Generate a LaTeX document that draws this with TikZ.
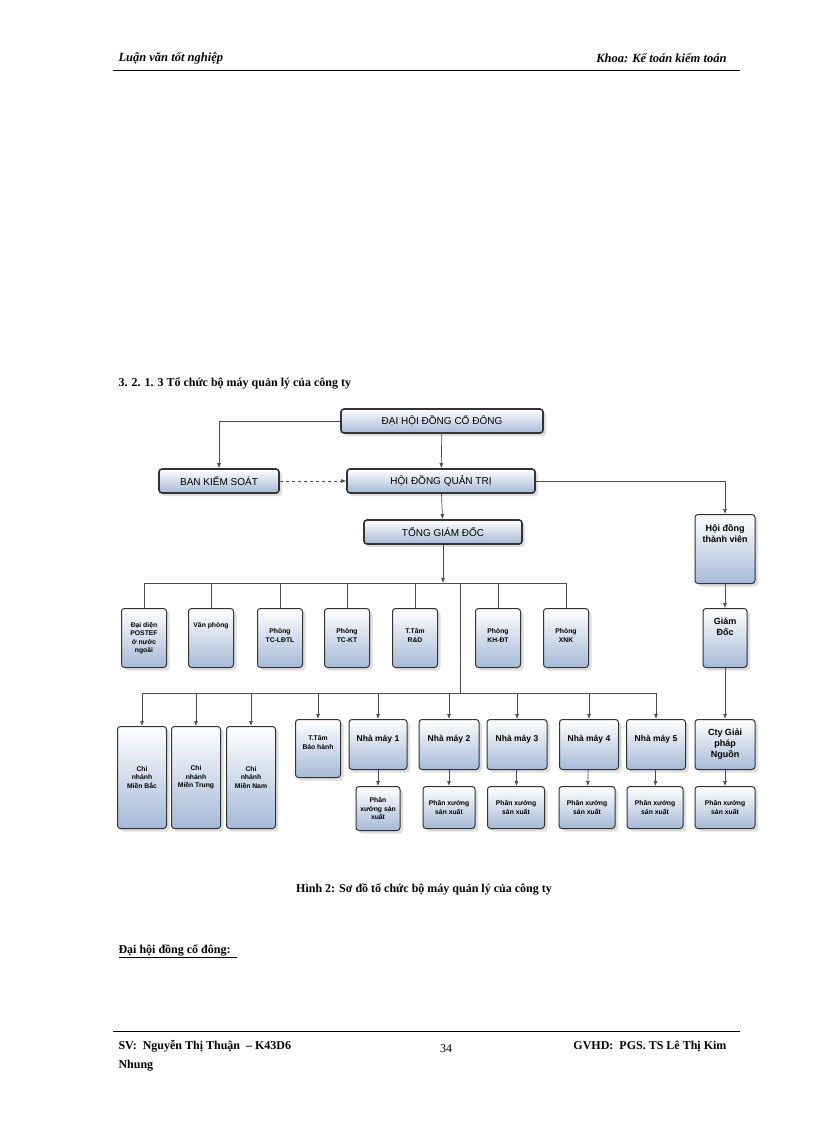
\documentclass[tikz,border=0pt]{standalone}
\usepackage{fontspec}
\setmainfont{Liberation Serif}
\newfontfamily\sff{Liberation Sans}
\usetikzlibrary{shadows,arrows.meta}
\definecolor{bxb}{RGB}{165,185,215}
\begin{document}
\begin{tikzpicture}[x={(1pt,0)},y={(0,-1pt)},
  bx/.style={draw=black!80,line width=1pt,rounded corners=3pt,top color=white,bottom color=bxb,
     drop shadow={shadow xshift=3pt,shadow yshift=-3pt,fill=gray!50},inner sep=1pt,align=center,font=\sff\fontsize{7}{8.5}\selectfont},
  big/.style={bx,font=\sff\fontsize{10}{11}\selectfont,line width=1.6pt},
  sm/.style={bx,font=\sff\bfseries\fontsize{6.8}{8.5}\selectfont},
  ln/.style={draw=black!70,line width=0.7pt},
  ar/.style={ln,-{Latex[length=5pt,width=4pt]}}]
\useasboundingbox (0,0) rectangle (816,1123);
% header/footer
\node[anchor=west,font=\bfseries\itshape\fontsize{12.5}{14}\selectfont] (h1) at (115,58) {Luận văn tốt nghiệp};
\node[anchor=east,font=\bfseries\itshape\fontsize{12.5}{14}\selectfont] (h2) at (730,58) {Khoa: Kế toán kiểm toán};
\draw[line width=1pt] (113,71) -- (740,71);
\node[anchor=west,font=\bfseries\fontsize{12}{14}\selectfont] (sec) at (115,383) {3. 2. 1. 3 Tổ chức bộ máy quản lý của công ty};
% top
\node[big,minimum width=202,minimum height=24] (dh) at (442,421) {ĐẠI HỘI ĐỒNG CỔ ĐÔNG};
\node[big,minimum width=120,minimum height=24] (bks) at (219,481) {BAN KIỂM SOÁT};
\node[big,minimum width=188,minimum height=24] (hq) at (441,481) {HỘI ĐỒNG QUẢN TRỊ};
\node[big,minimum width=158,minimum height=24] (tg) at (443,532) {TỔNG GIÁM ĐỐC};
\node[bx,font=\sff\bfseries\fontsize{9}{11}\selectfont,minimum width=60,minimum height=69,anchor=north,text depth=30pt] (tv) at (725,514) {Hội đồng\\thành viên};
\node[bx,font=\sff\bfseries\fontsize{9}{11}\selectfont,minimum width=44,minimum height=59,anchor=north,text depth=22pt] (gd) at (725,608) {Giám\\Đốc};
\draw[ar] (dh.west) -| (bks.north);
\draw[ar] (dh) -- (hq);
\draw[ar,dashed] (bks) -- (hq);
\draw[ar] (hq) -- (tg);
\draw[ar] (hq.east) -| (tv.north);
\draw[ar] (tv) -- (gd);
\coordinate (b1) at (443,583);
\draw[ar] (tg) -- (b1);
% row 1
\foreach \n/\x/\t in {r1/144/{Đại diện\\POSTEF\\ở nước\\ngoài},r2/211/{Văn phòng\\ \\ \\ },r3/280/{ \\Phòng\\TC-LĐTL\\ },r4/347/{ \\Phòng\\TC-KT\\ },r5/415/{ \\T.Tâm\\R\&D\\ },r6/498/{ \\Phòng\\KH-ĐT\\ },r7/566/{ \\Phòng\\XNK\\ }}{
  \node[sm,minimum width=45,minimum height=59,anchor=north] (\n) at (\x,608) {\t};
  \draw[ln] (\x,583) -- (\n.north);
}
\draw[ln] (r1.north |- b1) -- (r7.north |- b1);
\coordinate (b2) at (460,693);
\draw[ln] (460,583) -- (b2);
\draw[ln] (142,693) -- (656,693);
% row 2
\foreach \n/\x/\t in {c1/142/{Chi\\nhánh\\Miền Bắc},c2/196/{Chi\\nhánh\\Miền Trung},c3/251/{Chi\\nhánh\\Miền Nam}}{
  \node[sm,minimum width=49,minimum height=102,anchor=north] (\n) at (\x,726) {\t};
  \draw[ar] (\x,693) -- (\n.north);
}
\node[sm,minimum width=45,minimum height=58,anchor=north,text depth=12pt] (tb) at (318,719) {T.Tâm\\Bảo hành};
\draw[ar] (318,693) -- (tb.north);
\foreach \n/\x/\w/\k in {m1/378/58/1,m2/449/60/2,m3/517/60/3,m4/589/59/4,m5/656/59/5}{
  \node[bx,font=\sff\bfseries\fontsize{8.5}{10}\selectfont,minimum width=\w,minimum height=50,anchor=north] (\n) at (\x,719) {\raisebox{12pt}{Nhà máy \k}};
  \draw[ar] (\x,693) -- (\n.north);
}
\node[bx,font=\sff\bfseries\fontsize{9}{11}\selectfont,minimum width=60,minimum height=50,anchor=north] (cty) at (725,719) {Cty Giải\\pháp\\Nguồn};
\draw[ar] (gd) -- (cty);
% sub boxes
\node[sm,minimum width=44,minimum height=44,anchor=north] (p1) at (378,786) {Phân\\xưởng sản\\xuất};
\draw[ar] (m1) -- (p1);
\foreach \n/\m/\x/\w in {p2/m2/449/52,p3/m3/516/57,p4/m4/587/56,p5/m5/655/56,p6/cty/725/60}{
  \node[sm,minimum width=\w,minimum height=42,anchor=north] (\n) at (\x,786) {Phân xưởng\\sản xuất};
  \draw[ar] (\m) -- (\n);
}
% caption
\node[font=\bfseries\fontsize{12}{14}\selectfont] (cap) at (424,889) {Hình 2: Sơ đồ tổ chức bộ máy quản lý của công ty};
\node[anchor=west,font=\bfseries\fontsize{12}{14}\selectfont] (dh2) at (115,951) {\underline{Đại hội đồng cổ đông:\ \ }};
\draw[line width=1pt] (113,1031) -- (740,1031);
\node[anchor=west,font=\bfseries\fontsize{12}{14}\selectfont] (sv) at (115,1046) {SV:\ \ Nguyễn Thị Thuận \ – K43D6};
\node[anchor=west,font=\bfseries\fontsize{12}{14}\selectfont] (nh) at (115,1066) {Nhung};
\node[font=\fontsize{12}{14}\selectfont] (pg) at (446,1049) {34};
\node[anchor=east,font=\bfseries\fontsize{12}{14}\selectfont] (gv) at (730,1046) {GVHD:\ \ PGS. TS Lê Thị Kim};
\end{tikzpicture}
\end{document}
